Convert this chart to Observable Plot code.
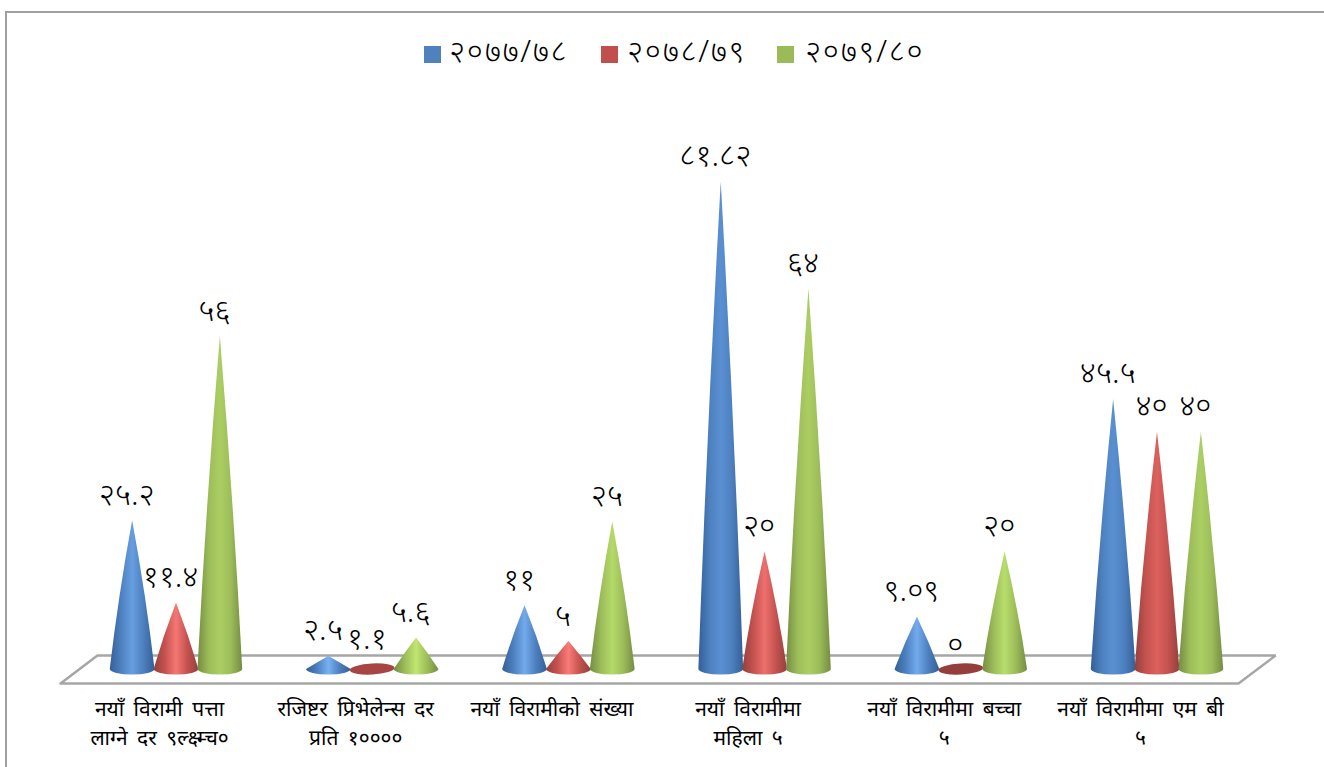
<!DOCTYPE html>
<html><head><meta charset="utf-8">
<script src="https://cdn.jsdelivr.net/npm/d3@7"></script>
<script src="https://cdn.jsdelivr.net/npm/@observablehq/plot@0.6"></script>
<style>
html,body{margin:0;padding:0;background:#fff;overflow:hidden;width:1324px;height:767px}
#frame{position:absolute;left:5px;top:11px;right:0;bottom:-4px;border-left:2px solid #a0a0a0;border-top:2px solid #a0a0a0;pointer-events:none}
#legend{position:relative;height:90px;font-family:"Noto Sans","Noto Sans Devanagari","DejaVu Sans",sans-serif;font-size:31px;font-weight:300;letter-spacing:1.7px;color:#000}
#legend .k{position:absolute;top:46px;width:17px;height:17px}
#legend .t{position:absolute;top:31px;line-height:38px;white-space:nowrap}
svg{display:block}
svg text{word-spacing:4px}
</style></head><body>
<div id="frame"></div>
<div id="legend"></div>
<div id="chart"></div>
<script>
const categories = ["नयाँ विरामी पत्ता\nलाग्ने दर ९ल्क्ष्म्च०","रजिष्टर प्रिभेलेन्स दर\nप्रति १००००","नयाँ विरामीको संख्या","नयाँ विरामीमा\nमहिला ५","नयाँ विरामीमा बच्चा\n५","नयाँ विरामीमा एम बी\n५"];
const seriesNames = ["२०७७/७८","२०७८/७९","२०७९/८०"];
const seriesColors = ["#4f81bd","#c0504d","#9bbb59"];
const values2077 = [25.2,2.5,11,81.82,9.09,45.5];
const values2078 = [11.4,1.1,5,20,0,40];
const values2079 = [56,5.6,25,64,20,40];
const labels2077 = ["२५.२","२.५","११","८१.८२","९.०९","४५.५"];
const labels2078 = ["११.४","१.१","५","२०","०","४०"];
const labels2079 = ["५६","५.६","२५","६४","२०","४०"];
const legendKeyLeft = [424,601,777];
const legendTextLeft = [449,627,805];

const allValues=[values2077,values2078,values2079], allLabels=[labels2077,labels2078,labels2079];
const rows = allValues.flatMap((vs,s)=>vs.map((v,c)=>({cat:c,s,value:v,label:allLabels[s][c],pos:c+(s-1)*0.2235})));
const halfBase = 0.114;

const edgeColors  = ["#345f98","#93403d","#748c42"];
const midColors   = ["#4d80bf","#c4524f","#9cbc59"];
const brightShort = ["#7ab3f4","#ff7f7c","#c4ea72"];
const brightTall  = ["#5a90d2","#d9605c","#abce63"];

function cones(index,scales,values,dims,context){
  const ns="http://www.w3.org/2000/svg", doc=context.document;
  const root=d3.select(doc.createElementNS(ns,"g"));
  const defs=root.append("defs");
  for(const i of index){
    const xl=values.x1[i], xr=values.x2[i], yb=values.y1[i], yt=values.y2[i];
    const cx=(xl+xr)/2, rx=(xr-xl)/2, ry=5.5, yc=yb-2, h=yb-yt;
    const s=rows[i].s;
    const bright=d3.interpolateRgb(brightShort[s],brightTall[s])(Math.min(1,h/250));
    const lg=defs.append("linearGradient").attr("id","cone"+i);
    [[0,edgeColors[s]],[0.25,midColors[s]],[0.5,bright],[0.75,midColors[s]],[1,edgeColors[s]]]
      .forEach(([o,c])=>lg.append("stop").attr("offset",o).attr("stop-color",c));
    if(h<10){
      root.append("ellipse").attr("cx",cx).attr("cy",yc).attr("rx",rx).attr("ry",ry)
        .attr("fill",d3.color(seriesColors[s]).darker(h>0?0.4:0.7)).attr("transform",`rotate(-3 ${cx} ${yc})`);
    } else {
      const bulge=Math.min(2.5,h/40);
      const d=`M${xl},${yc}Q${(xl+cx)/2-bulge},${(yc+yt)/2} ${cx},${yt}Q${(xr+cx)/2+bulge},${(yc+yt)/2} ${xr},${yc}A${rx},${ry} 0 0 1 ${xl},${yc}Z`;
      root.append("path").attr("d",d).attr("fill",`url(#cone${i})`);
    }
  }
  return root.node();
}
const floorX=[-0.591,5.413,5.602,-0.403,-0.591], floorY=[-2.01,-2.01,2.68,2.68,-2.01];
const floor=floorX.map((x,i)=>({x,y:floorY[i]}));
const plot=Plot.plot({
  width:1324,height:677,marginTop:43,marginBottom:96,marginLeft:0,marginRight:0,
  x:{domain:[0,5],range:[176,1157]},
  y:{domain:[0,90],range:[581,42.8],axis:null},
  style:{background:"transparent",fontFamily:'"Noto Sans","Noto Sans Devanagari","DejaVu Sans",sans-serif'},
  marks:[
    Plot.line(floor,{x:"x",y:"y",stroke:"#a6a6a6",strokeWidth:2.5,strokeLinejoin:"miter"}),
    Plot.rectY(rows,{x1:d=>d.pos-halfBase,x2:d=>d.pos+halfBase,y1:0,y2:"value",render:cones}),
    Plot.text(rows,{x:"pos",y:"value",text:"label",dx:-6,dy:-26,fontSize:31,fontWeight:300,fill:"#000"}),
    Plot.axisX({ticks:[0,1,2,3,4,5],tickFormat:i=>categories[i],tickSize:0,tickPadding:24,dx:-17,fontSize:21,lineHeight:1.38,anchor:"bottom",label:null,fill:"#000"})
  ]
});
document.getElementById("chart").append(plot);
const lg=d3.select("#legend");
seriesNames.forEach((n,i)=>{
  lg.append("div").attr("class","k").style("left",legendKeyLeft[i]+"px").style("background",seriesColors[i]);
  lg.append("div").attr("class","t").style("left",legendTextLeft[i]+"px").text(n);
});
</script>
</body></html>
